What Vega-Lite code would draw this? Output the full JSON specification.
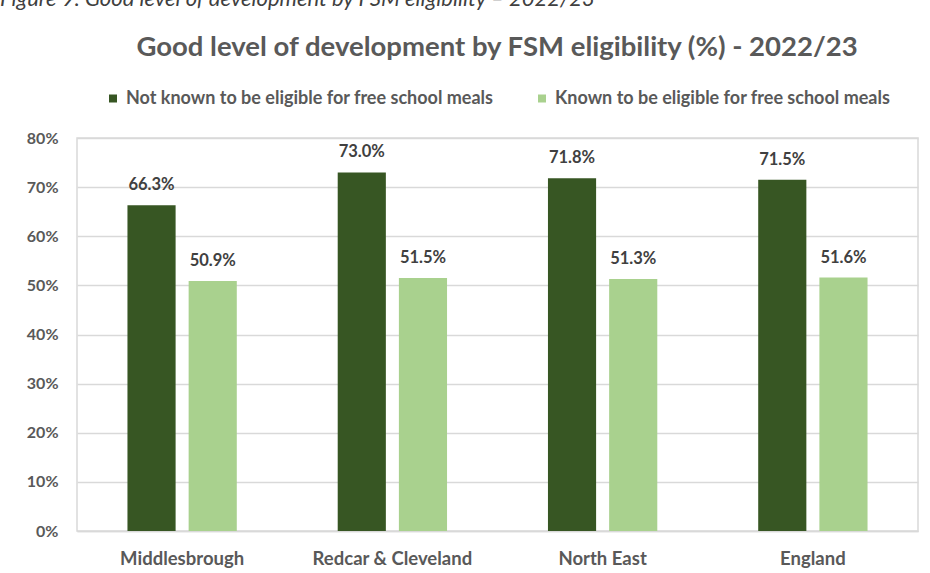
{
  "$schema": "https://vega.github.io/schema/vega-lite/v6.json",
  "width": 841,
  "height": 393,
  "padding": {"left": 0, "top": -12, "right": 12, "bottom": 5},
  "background": "white",
  "title": {
    "text": "Figure 9: Good level of development by FSM eligibility – 2022/23",
    "anchor": "start",
    "frame": "bounds",
    "font": "Lato",
    "fontStyle": "italic",
    "fontWeight": "normal",
    "fontSize": 22,
    "color": "#404040",
    "offset": 23
  },
  "data": {
    "values": [
      {"area": "Middlesbrough", "group": "Not known to be eligible for free school meals", "value": 0.663},
      {"area": "Middlesbrough", "group": "Known to be eligible for free school meals", "value": 0.509},
      {"area": "Redcar & Cleveland", "group": "Not known to be eligible for free school meals", "value": 0.730},
      {"area": "Redcar & Cleveland", "group": "Known to be eligible for free school meals", "value": 0.515},
      {"area": "North East", "group": "Not known to be eligible for free school meals", "value": 0.718},
      {"area": "North East", "group": "Known to be eligible for free school meals", "value": 0.513},
      {"area": "England", "group": "Not known to be eligible for free school meals", "value": 0.715},
      {"area": "England", "group": "Known to be eligible for free school meals", "value": 0.516}
    ]
  },
  "encoding": {
    "x": {
      "field": "area",
      "type": "nominal",
      "sort": null,
      "scale": {"paddingInner": 0.48, "paddingOuter": 0.24},
      "axis": {
        "title": null,
        "labelAngle": 0,
        "ticks": false,
        "domainColor": "#d9d9d9",
        "domainWidth": 1.5,
        "labelFont": "Lato",
        "labelFontSize": 18.5,
        "labelFontWeight": "bold",
        "labelColor": "#595959",
        "labelPadding": 18
      }
    },
    "xOffset": {
      "field": "group",
      "type": "nominal",
      "sort": ["Not known to be eligible for free school meals", "Known to be eligible for free school meals"],
      "scale": {"paddingInner": 0.213, "paddingOuter": 0}
    },
    "y": {
      "field": "value",
      "type": "quantitative",
      "scale": {"domain": [0, 0.8], "nice": false},
      "axis": {
        "title": null,
        "format": ".0%",
        "values": [0, 0.1, 0.2, 0.3, 0.4, 0.5, 0.6, 0.7, 0.8],
        "ticks": false,
        "domain": false,
        "gridColor": "#d9d9d9",
        "gridWidth": 1.5,
        "labelFont": "Lato",
        "labelFontSize": 16,
        "labelFontWeight": "bold",
        "labelColor": "#595959",
        "labelPadding": 19,
        "minExtent": 77,
        "maxExtent": 77
      }
    }
  },
  "layer": [
    {
      "mark": {"type": "bar"},
      "encoding": {
        "color": {
          "field": "group",
          "type": "nominal",
          "scale": {
            "domain": ["Not known to be eligible for free school meals", "Known to be eligible for free school meals"],
            "range": ["#375623", "#a9d18e"]
          },
          "legend": {
            "orient": "top",
            "direction": "horizontal",
            "title": "Good level of development by FSM eligibility (%) - 2022/23",
            "titleOrient": "top",
            "titleAnchor": "middle",
            "titleFont": "Lato",
            "titleFontSize": 27.5,
            "titleFontWeight": "bold",
            "titleColor": "#595959",
            "titlePadding": 28,
            "titleLimit": 900,
            "labelFont": "Lato",
            "labelFontSize": 18,
            "labelFontWeight": "bold",
            "labelColor": "#595959",
            "labelLimit": 500,
            "symbolType": "square",
            "symbolSize": 64,
            "symbolStrokeWidth": 0,
            "columnPadding": 39,
            "labelOffset": 4,
            "offset": 30
          }
        }
      }
    },
    {
      "mark": {
        "type": "text",
        "baseline": "alphabetic",
        "dy": -15,
        "font": "Lato",
        "fontSize": 16.5,
        "fontWeight": "bold",
        "color": "#404040"
      },
      "encoding": {
        "text": {"field": "value", "type": "quantitative", "format": ".1%"}
      }
    }
  ],
  "config": {
    "view": {"stroke": "#d9d9d9", "strokeWidth": 1.5},
    "legend": {"layout": {"top": {"anchor": "middle"}}}
  }
}
